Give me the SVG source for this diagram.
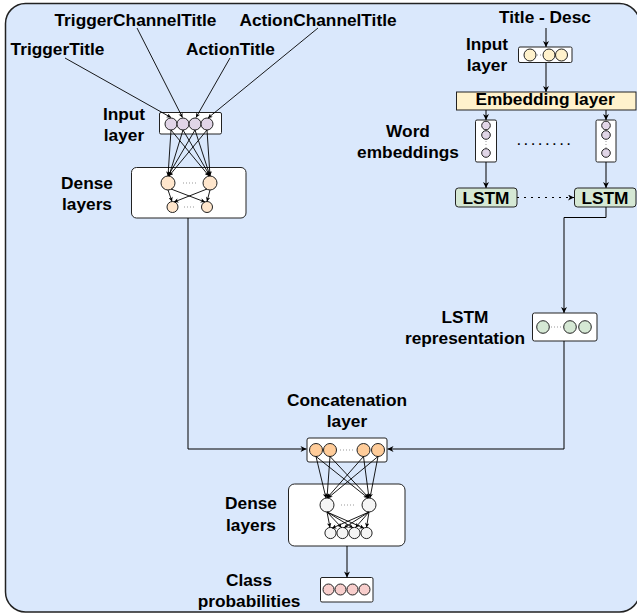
<svg xmlns="http://www.w3.org/2000/svg" width="637" height="614" viewBox="0 0 637 614">
<defs>
<marker id="a" viewBox="0 0 10 10" refX="10" refY="5" markerWidth="7" markerHeight="6" orient="auto" markerUnits="userSpaceOnUse"><path d="M0,0 L10,5 L0,10 L3,5 z" fill="#000"/></marker>
<marker id="s" viewBox="0 0 10 10" refX="10" refY="5" markerWidth="5" markerHeight="4.5" orient="auto" markerUnits="userSpaceOnUse"><path d="M0,0 L10,5 L0,10 L3,5 z" fill="#000"/></marker>
<style>
.t{font-family:"Liberation Sans",Arial,Helvetica,sans-serif;font-weight:bold;font-size:17.3px;fill:#000;text-anchor:middle}
.box{fill:#fff;stroke:#222;stroke-width:1}
.c{stroke:#222;stroke-width:1}
.pu{fill:#e1d5e7}.or{fill:#ffe6cc}.co{fill:#ffcc99}.gr{fill:#f5f5f5}.pk{fill:#f8cecc}.ye{fill:#fff2cc}.gn{fill:#d5e8d4}
.ln{fill:none;stroke:#000;stroke-width:1}
.ar{fill:none;stroke:#000;stroke-width:1;marker-end:url(#a)}
.sa{fill:none;stroke:#000;stroke-width:0.9;marker-end:url(#s)}
.dt{stroke:#999;stroke-width:1;stroke-dasharray:1 2}
</style>
</defs>
<rect x="5.5" y="3.5" width="634" height="608.5" rx="20" fill="#dae8fc" stroke="#222" stroke-width="1.5"/>

<g id="labels">
<text class="t" x="57.5" y="55">TriggerTitle</text>
<text class="t" x="135.5" y="26">TriggerChannelTitle</text>
<text class="t" x="230.5" y="55">ActionTitle</text>
<text class="t" x="318" y="26">ActionChannelTitle</text>
<text class="t" x="545" y="23">Title - Desc</text>
</g>

<g id="input-left">
<text class="t" x="124" y="119.5">Input</text>
<text class="t" x="124" y="141">layer</text>
<rect class="box" x="159.5" y="112.5" width="62" height="21.5" rx="1.5"/>
<circle class="c pu" cx="171" cy="124" r="6"/>
<circle class="c pu" cx="183" cy="124" r="6"/>
<circle class="c pu" cx="195" cy="124" r="6"/>
<circle class="c pu" cx="207" cy="124" r="6"/>
</g>

<g id="dense-top">
<text class="t" x="87" y="188.5">Dense</text>
<text class="t" x="87" y="210">layers</text>
<rect class="box" x="131.5" y="167.5" width="114.5" height="50.5" rx="5"/>
<circle class="c or" cx="168" cy="183" r="7"/>
<circle class="c or" cx="210" cy="183" r="7"/>
<circle class="c or" cx="172.5" cy="207" r="5.5"/>
<circle class="c or" cx="207" cy="207" r="5.5"/>
<line class="dt" x1="183" y1="183" x2="196" y2="183"/>
<line class="dt" x1="184" y1="207" x2="196" y2="207"/>
</g>

<g id="input-right">
<text class="t" x="487" y="50">Input</text>
<text class="t" x="487" y="70.5">layer</text>
<rect class="box" x="518.5" y="47" width="53.5" height="15.5" rx="1.5"/>
<circle class="c ye" cx="530" cy="55" r="6"/>
<circle class="c ye" cx="549" cy="55" r="6"/>
<circle class="c ye" cx="561.5" cy="55" r="6"/>
<line class="dt" x1="537" y1="55" x2="543" y2="55"/>
</g>

<g id="embedding">
<rect x="456.5" y="92" width="179.5" height="18" fill="#fff2cc" stroke="#222" stroke-width="1"/>
<text class="t" x="545" y="104.5">Embedding layer</text>
</g>

<g id="word-embeddings">
<text class="t" x="408" y="137">Word</text>
<text class="t" x="408" y="158">embeddings</text>
<rect class="box" x="475.5" y="120" width="21" height="42" rx="1.5"/>
<circle class="c pu" cx="486" cy="125.5" r="4.3"/>
<circle class="c pu" cx="486" cy="135" r="4.3"/>
<circle class="c pu" cx="486" cy="153" r="4.3"/>
<line class="dt" x1="486" y1="141" x2="486" y2="148"/>
<rect class="box" x="596" y="120" width="20" height="42" rx="1.5"/>
<circle class="c pu" cx="606" cy="125.5" r="4.3"/>
<circle class="c pu" cx="606" cy="135" r="4.3"/>
<circle class="c pu" cx="606" cy="153" r="4.3"/>
<line class="dt" x1="606" y1="141" x2="606" y2="148"/>
<text x="545" y="145" font-family="Liberation Sans, Arial, sans-serif" font-size="17" text-anchor="middle" letter-spacing="2.4" fill="#000">........</text>
</g>

<g id="lstm-left">
<rect x="455.5" y="188" width="61.5" height="19" rx="3" fill="#d5e8d4" stroke="#222" stroke-width="1"/>
<text class="t" x="486" y="203.5">LSTM</text>
</g>
<g id="lstm-right">
<rect x="574.5" y="188" width="61.5" height="19" rx="3" fill="#d5e8d4" stroke="#222" stroke-width="1"/>
<text class="t" x="605" y="203.5">LSTM</text>
</g>

<g id="lstm-representation">
<text class="t" x="465" y="323">LSTM</text>
<text class="t" x="465" y="344">representation</text>
<rect class="box" x="532.5" y="313" width="64.5" height="28" rx="2"/>
<circle class="c gn" cx="543" cy="327" r="6.3"/>
<circle class="c gn" cx="570" cy="327" r="6.3"/>
<circle class="c gn" cx="585" cy="327" r="6.3"/>
<line class="dt" x1="551" y1="327" x2="562" y2="327"/>
</g>

<g id="concatenation">
<text class="t" x="347" y="406">Concatenation</text>
<text class="t" x="347" y="427">layer</text>
<rect class="box" x="307" y="438" width="80" height="24" rx="2"/>
<circle class="c co" cx="316" cy="450" r="6.5"/>
<circle class="c co" cx="330" cy="450" r="6.5"/>
<circle class="c co" cx="363.5" cy="450" r="6.5"/>
<circle class="c co" cx="378" cy="450" r="6.5"/>
<line class="dt" x1="340" y1="450" x2="354" y2="450"/>
</g>

<g id="dense-bottom">
<text class="t" x="251" y="508.5">Dense</text>
<text class="t" x="251" y="530.5">layers</text>
<rect class="box" x="288.5" y="484" width="116.5" height="62" rx="6"/>
<circle class="c gr" cx="327" cy="505" r="7"/>
<circle class="c gr" cx="369" cy="505" r="7"/>
<circle class="c gr" cx="330.5" cy="533" r="5.6"/>
<circle class="c gr" cx="342.5" cy="533" r="5.6"/>
<circle class="c gr" cx="354.5" cy="533" r="5.6"/>
<circle class="c gr" cx="366.5" cy="533" r="5.6"/>
<line class="dt" x1="341" y1="505" x2="355" y2="505"/>
</g>

<g id="class-probabilities">
<text class="t" x="249" y="586">Class</text>
<text class="t" x="249" y="607">probabilities</text>
<rect class="box" x="320.5" y="577.5" width="52.5" height="24.5" rx="1.5"/>
<circle class="c pk" cx="328.5" cy="589.5" r="5.5"/>
<circle class="c pk" cx="340.5" cy="589.5" r="5.5"/>
<circle class="c pk" cx="352.5" cy="589.5" r="5.5"/>
<circle class="c pk" cx="364.5" cy="589.5" r="5.5"/>
</g>

<g id="connectors">
<path class="sa" d="M65,58 L171,117.5"/>
<path class="sa" d="M137,28 L182.5,117.5"/>
<path class="sa" d="M230,58 L196,117.5"/>
<path class="sa" d="M318,28 L208,118"/>

<path class="sa" d="M171,130 L168,176"/>
<path class="sa" d="M171,130 L209,176"/>
<path class="sa" d="M183,130 L169,176"/>
<path class="sa" d="M183,130 L210,176"/>
<path class="sa" d="M195,130 L168,176"/>
<path class="sa" d="M195,130 L210,176"/>
<path class="sa" d="M207,130 L169,176"/>
<path class="sa" d="M207,130 L210,176"/>

<path class="sa" d="M168,190 L172,201.5"/>
<path class="sa" d="M171,189 L205,202"/>
<path class="sa" d="M210,190 L207,201.5"/>
<path class="sa" d="M207,189 L174,202"/>

<path class="ar" d="M188,218 L188,449 L306.5,449"/>

<path class="ar" d="M546,28 L546,47"/>
<path class="ar" d="M546,62.5 L546,92"/>
<path class="ar" d="M486,110 L486,120"/>
<path class="ar" d="M606,110 L606,120"/>
<path class="ar" d="M486,162 L486,188"/>
<path class="ar" d="M606,162 L606,188"/>
<path d="M517,197.5 L574,197.5" fill="none" stroke="#000" stroke-width="1" stroke-dasharray="2 5" marker-end="url(#a)"/>
<path class="ar" d="M606,207 L606,217.5 L564,217.5 L564,313"/>
<path class="ar" d="M564,341 L564,449 L387.5,449"/>

<path class="sa" d="M316,456.5 L326,498"/>
<path class="sa" d="M316,456.5 L368,498"/>
<path class="sa" d="M330,456.5 L327,498"/>
<path class="sa" d="M330,456.5 L369,498"/>
<path class="sa" d="M363.5,456.5 L327,498"/>
<path class="sa" d="M363.5,456.5 L369,498"/>
<path class="sa" d="M378,456.5 L328,498"/>
<path class="sa" d="M378,456.5 L370,498"/>

<path class="sa" d="M327,512 L330,527.4"/>
<path class="sa" d="M327,512 L341.5,527.5"/>
<path class="sa" d="M327,512 L353,527.8"/>
<path class="sa" d="M327,512 L364,528.2"/>
<path class="sa" d="M369,512 L332,528.2"/>
<path class="sa" d="M369,512 L344,527.8"/>
<path class="sa" d="M369,512 L355.5,527.5"/>
<path class="sa" d="M369,512 L366.5,527.4"/>

<path class="ar" d="M347,546 L347,577.5"/>
</g>
</svg>
